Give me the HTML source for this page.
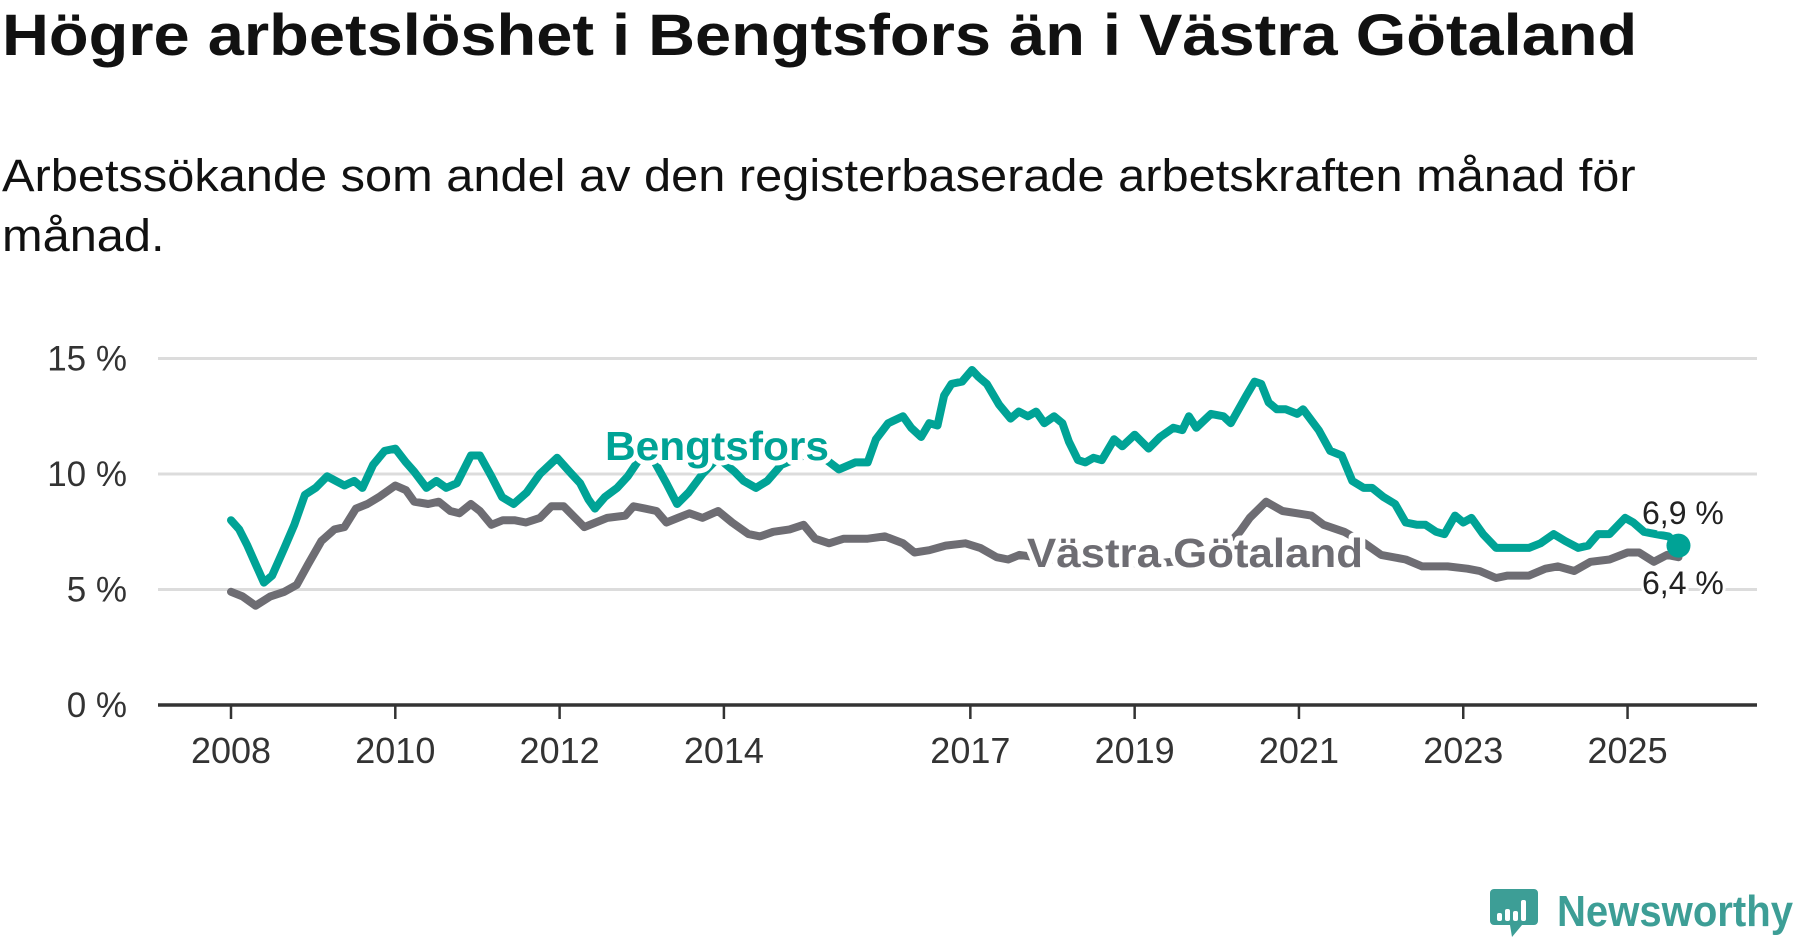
<!DOCTYPE html>
<html><head><meta charset="utf-8"><style>
html,body{margin:0;padding:0;background:#fff;}
body{width:1800px;height:948px;overflow:hidden;position:relative;font-family:"Liberation Sans","DejaVu Sans",sans-serif;}
#title{position:absolute;left:2px;top:2px;font-size:58px;font-weight:bold;color:#111;white-space:nowrap;transform-origin:0 0;transform:scaleX(1.12);}
#subtitle{position:absolute;left:2px;top:146px;font-size:45px;color:#111;line-height:60px;white-space:nowrap;transform-origin:0 0;transform:scaleX(1.083);}
svg{position:absolute;left:0;top:0;}
</style></head><body>
<div id="title">Högre arbetslöshet i Bengtsfors än i Västra Götaland</div>
<div id="subtitle">Arbetssökande som andel av den registerbaserade arbetskraften månad för<br>månad.</div>
<svg id="chart" width="1800" height="948"></svg>
<script>
const yTicks=[0,5,10,15];
const yTickLabels=["0 %","5 %","10 %","15 %"];
const xTicks=[2008,2010,2012,2014,2017,2019,2021,2023,2025];
const bT=[2008.0,2008.1,2008.2,2008.3,2008.4,2008.5,2008.65,2008.77,2008.9,2009.03,2009.17,2009.38,2009.5,2009.6,2009.73,2009.87,2010.0,2010.13,2010.23,2010.38,2010.5,2010.62,2010.75,2010.92,2011.03,2011.17,2011.3,2011.44,2011.6,2011.76,2011.97,2012.12,2012.25,2012.35,2012.43,2012.55,2012.7,2012.83,2013.0,2013.13,2013.3,2013.43,2013.57,2013.74,2013.93,2014.13,2014.24,2014.39,2014.53,2014.7,2014.97,2015.25,2015.4,2015.6,2015.75,2015.85,2016.0,2016.18,2016.28,2016.4,2016.5,2016.6,2016.68,2016.77,2016.9,2017.02,2017.1,2017.2,2017.35,2017.49,2017.59,2017.7,2017.8,2017.9,2018.02,2018.12,2018.2,2018.31,2018.4,2018.5,2018.6,2018.75,2018.85,2019.0,2019.17,2019.31,2019.47,2019.58,2019.66,2019.75,2019.93,2020.08,2020.17,2020.36,2020.46,2020.54,2020.63,2020.73,2020.84,2020.98,2021.05,2021.24,2021.38,2021.52,2021.65,2021.79,2021.89,2022.03,2022.17,2022.3,2022.44,2022.54,2022.67,2022.77,2022.9,2023.0,2023.1,2023.24,2023.4,2023.54,2023.8,2023.94,2024.1,2024.24,2024.4,2024.52,2024.64,2024.78,2024.97,2025.07,2025.2,2025.34,2025.5,2025.62];
const bV=[8.0,7.6,6.9,6.1,5.3,5.6,6.8,7.8,9.1,9.4,9.9,9.5,9.7,9.4,10.4,11.0,11.1,10.5,10.1,9.4,9.7,9.4,9.6,10.8,10.8,9.9,9.0,8.7,9.2,10.0,10.7,10.1,9.6,8.9,8.5,9.0,9.4,9.9,10.8,10.7,9.6,8.7,9.2,10.0,10.7,10.1,9.7,9.4,9.7,10.4,10.8,10.6,10.2,10.5,10.5,11.5,12.2,12.5,12.0,11.6,12.2,12.1,13.4,13.9,14.0,14.5,14.2,13.9,13.0,12.4,12.7,12.5,12.7,12.2,12.5,12.2,11.4,10.6,10.5,10.7,10.6,11.5,11.2,11.7,11.1,11.6,12.0,11.9,12.5,12.0,12.6,12.5,12.2,13.4,14.0,13.9,13.1,12.8,12.8,12.6,12.8,11.9,11.0,10.8,9.7,9.4,9.4,9.0,8.7,7.9,7.8,7.8,7.5,7.4,8.2,7.9,8.1,7.4,6.8,6.8,6.8,7.0,7.4,7.1,6.8,6.9,7.4,7.4,8.1,7.9,7.5,7.4,7.3,6.9];
const vT=[2008.0,2008.14,2008.3,2008.48,2008.65,2008.8,2008.94,2009.1,2009.26,2009.38,2009.52,2009.66,2009.8,2010.0,2010.13,2010.23,2010.4,2010.53,2010.67,2010.78,2010.92,2011.03,2011.17,2011.31,2011.45,2011.59,2011.76,2011.9,2012.05,2012.19,2012.3,2012.44,2012.58,2012.8,2012.9,2013.04,2013.18,2013.3,2013.44,2013.58,2013.74,2013.93,2014.1,2014.3,2014.44,2014.6,2014.8,2014.97,2015.11,2015.28,2015.46,2015.75,2015.96,2016.18,2016.32,2016.5,2016.7,2016.94,2017.12,2017.32,2017.46,2017.6,2018.0,2018.6,2019.2,2019.7,2020.0,2020.15,2020.28,2020.4,2020.6,2020.8,2020.98,2021.15,2021.3,2021.55,2021.8,2022.0,2022.3,2022.5,2022.67,2022.81,2023.05,2023.2,2023.4,2023.54,2023.8,2024.0,2024.15,2024.35,2024.55,2024.78,2025.0,2025.14,2025.32,2025.48,2025.62];
const vV=[4.9,4.7,4.3,4.7,4.9,5.2,6.1,7.1,7.6,7.7,8.5,8.7,9.0,9.5,9.3,8.8,8.7,8.8,8.4,8.3,8.7,8.4,7.8,8.0,8.0,7.9,8.1,8.6,8.6,8.1,7.7,7.9,8.1,8.2,8.6,8.5,8.4,7.9,8.1,8.3,8.1,8.4,7.9,7.4,7.3,7.5,7.6,7.8,7.2,7.0,7.2,7.2,7.3,7.0,6.6,6.7,6.9,7.0,6.8,6.4,6.3,6.5,6.3,6.2,6.1,6.3,6.6,7.0,7.5,8.1,8.8,8.4,8.3,8.2,7.8,7.5,7.0,6.5,6.3,6.0,6.0,6.0,5.9,5.8,5.5,5.6,5.6,5.9,6.0,5.8,6.2,6.3,6.6,6.6,6.2,6.5,6.4];
const NS='http://www.w3.org/2000/svg';
const svg=document.getElementById('chart');
const X0=158,X1=1757;
function xs(t){return 231+(t-2008)*82.15;}
function ys(v){return 705-v*23.1;}
function mk(tag,attrs,parent){const e=document.createElementNS(NS,tag);for(const k in attrs)e.setAttribute(k,attrs[k]);(parent||svg).appendChild(e);return e;}
yTicks.forEach((v,i)=>{
 if(v>0){const g=mk('line',{x1:X0,x2:X1,y1:ys(v),y2:ys(v),stroke:'#dcdcdc','stroke-width':3});
 
 }
 const t=mk('text',{x:127,y:ys(v)+12,'text-anchor':'end','font-size':35,fill:'#333','font-family':'Liberation Sans, sans-serif'});
 t.textContent=yTickLabels[i];
 
 
});
const ax=mk('line',{x1:X0,x2:X1,y1:705,y2:705,stroke:'#333','stroke-width':3.5});


xTicks.forEach(yr=>{
 const tk=mk('line',{x1:xs(yr),x2:xs(yr),y1:705,y2:719,stroke:'#333','stroke-width':2.5});
 
 
 const t=mk('text',{x:xs(yr),y:763,'text-anchor':'middle','font-size':36,fill:'#333','font-family':'Liberation Sans, sans-serif'});
 t.textContent=String(yr);
 
 
});
function path(T,V){return T.map((t,i)=>(i?'L':'M')+xs(t).toFixed(1)+','+ys(V[i]).toFixed(1)).join('');}
const pv=mk('path',{d:path(vT,vV),fill:'none',stroke:'#6e6d73','stroke-width':8,'stroke-linejoin':'round','stroke-linecap':'round'});


const pb=mk('path',{d:path(bT,bV),fill:'none',stroke:'#00a396','stroke-width':8,'stroke-linejoin':'round','stroke-linecap':'round'});


function lbl(txt,x,y,col,name,len){
 const t=mk('text',{x:x,y:y,'font-size':41,'font-weight':'bold',fill:col,stroke:'#fff','stroke-width':10,'paint-order':'stroke','stroke-linejoin':'round','font-family':'Liberation Sans, sans-serif',textLength:len,lengthAdjust:'spacingAndGlyphs'});
 t.textContent=txt;
 
 
}
lbl('Bengtsfors',605,460,'#00a396','bengtsfors-label',224);
lbl('Västra Götaland',1027,567,'#6e6d73','vastra-gotaland-label',336);
const lb=bT.length-1,lv=vT.length-1;
const d=mk('circle',{cx:xs(bT[lb]),cy:ys(bV[lb]),r:12,fill:'#00a396'});


function endl(txt,y,name){
 const t=mk('text',{x:1642,y:y,'font-size':32,fill:'#222',stroke:'#fff','stroke-width':6,'paint-order':'stroke','font-family':'Liberation Sans, sans-serif'});
 t.textContent=txt;
 
 
}
endl(String(bV[lb]).replace('.',',')+' %',524,'bengtsfors-end-value');
endl(String(vV[lv]).replace('.',',')+' %',594,'vastra-gotaland-end-value');
const lg=mk('g',{});


mk('path',{d:'M1494,889 H1534 a4,4 0 0 1 4,4 V921 a4,4 0 0 1 -4,4 H1522 L1512,937 L1510,925 H1494 a4,4 0 0 1 -4,-4 V893 a4,4 0 0 1 4,-4 Z',fill:'#3d9e96'},lg);
[[1497,913,5,8],[1505,909,5,12],[1513,911,5,10],[1521,900,5,21]].forEach(r=>mk('rect',{x:r[0],y:r[1],width:r[2],height:r[3],rx:2,fill:'#fff'},lg));
const lt=mk('text',{x:1557,y:926,'font-size':44,'font-weight':'bold',fill:'#3d9e96','font-family':'Liberation Sans, sans-serif',textLength:236,lengthAdjust:'spacingAndGlyphs'},lg);
lt.textContent='Newsworthy';
</script>
</body></html>
